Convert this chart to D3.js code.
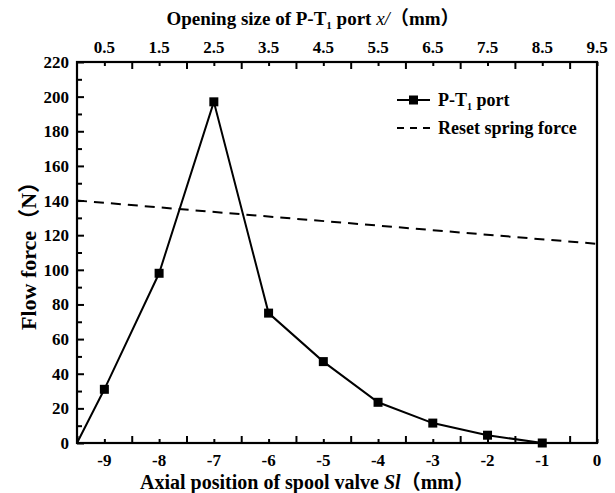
<!DOCTYPE html>
<html>
<head>
<meta charset="utf-8">
<script src="https://cdn.jsdelivr.net/npm/d3@7"></script>
<style>
  body { margin: 0; background: #fff; }
  text { font-family: "Liberation Serif", "Times New Roman", "Noto Sans CJK SC", serif; font-weight: bold; fill: #000; }
</style>
</head>
<body>
<script>
// data
var positions = [-9.5, -9, -8, -7, -6, -5, -4, -3, -2, -1];
var flowForce = [0, 31, 98, 197, 75, 47, 23.5, 11.5, 4.5, 0];
var springX = [-9.5, 0];
var springForce = [140, 115];
var bottomTicks = [-9, -8, -7, -6, -5, -4, -3, -2, -1, 0];
var topTicks = [0.5, 1.5, 2.5, 3.5, 4.5, 5.5, 6.5, 7.5, 8.5, 9.5];
var yTicks = [0, 20, 40, 60, 80, 100, 120, 140, 160, 180, 200, 220];

var scr = { w: 615, h: 493 };
var margins = { left: 77, right: 18, top: 62, bottom: 50 };
var w = scr.w - margins.left - margins.right;
var h = scr.h - margins.top - margins.bottom;

var svg = d3.select('body').append('svg')
  .attr('width', scr.w)
  .attr('height', scr.h);

var g = svg.append('g')
  .attr('transform', 'translate(' + margins.left + ',' + margins.top + ')');

var xScale = d3.scaleLinear().domain([-9.5, 0]).range([0, w]);
var xTopScale = d3.scaleLinear().domain([0, 9.5]).range([0, w]);
var yScale = d3.scaleLinear().domain([0, 220]).range([h, 0]);

// short and long ticks, all pointing inward
var bottomMinor = d3.axisBottom(xScale).tickValues(bottomTicks).tickSize(-4).tickFormat('');
var bottomMajor = d3.axisBottom(xScale).tickValues(d3.range(-9.5, 0, 1)).tickSize(-7).tickFormat('');
var topMinor = d3.axisTop(xTopScale).tickValues(topTicks).tickSize(-4).tickFormat('');
var topMajor = d3.axisTop(xTopScale).tickValues(d3.range(1, 10, 1)).tickSize(-7).tickFormat('');
var leftMajor = d3.axisLeft(yScale).tickValues(yTicks).tickSize(-7).tickFormat('');
var leftMinor = d3.axisLeft(yScale).tickValues(d3.range(10, 220, 20)).tickSize(-5).tickFormat('');

function styleAxis(sel) {
  sel.select('.domain').remove();
  sel.selectAll('line').attr('stroke', '#000').attr('stroke-width', 2);
}

g.append('g').attr('transform', 'translate(0,' + h + ')').call(bottomMinor).call(styleAxis);
g.append('g').attr('transform', 'translate(0,' + h + ')').call(bottomMajor).call(styleAxis);
g.append('g').call(topMinor).call(styleAxis);
g.append('g').call(topMajor).call(styleAxis);
g.append('g').call(leftMajor).call(styleAxis);
g.append('g').call(leftMinor).call(styleAxis);

// frame
g.append('rect')
  .attr('width', w).attr('height', h)
  .attr('fill', 'none').attr('stroke', '#000').attr('stroke-width', 2.2);

// tick labels
g.selectAll('.bl').data(bottomTicks).enter().append('text')
  .attr('x', function(d){ return xScale(d); })
  .attr('y', h + 23)
  .attr('text-anchor', 'middle')
  .style('font-size', '17px')
  .text(function(d){ return d; });

g.selectAll('.tl').data(topTicks).enter().append('text')
  .attr('x', function(d){ return xTopScale(d); })
  .attr('y', -9)
  .attr('text-anchor', 'middle')
  .style('font-size', '17px')
  .text(function(d){ return d; });

g.selectAll('.yl').data(yTicks).enter().append('text')
  .attr('x', -8)
  .attr('y', function(d){ return yScale(d) + 6; })
  .attr('text-anchor', 'end')
  .style('font-size', '17px')
  .text(function(d){ return d; });

// axis titles
var bt = svg.append('text')
  .attr('x', margins.left + w / 2 - 30)
  .attr('y', 489)
  .attr('text-anchor', 'middle')
  .style('font-size', '20px');
bt.append('tspan').text('Axial position of spool valve ');
bt.append('tspan').style('font-style', 'italic').text('Sl');
bt.append('tspan').text('（mm）');

var tt = svg.append('text')
  .attr('x', margins.left + w / 2 - 24)
  .attr('y', 25)
  .attr('text-anchor', 'middle')
  .style('font-size', '19px');
tt.append('tspan').text('Opening size of P-T');
tt.append('tspan').attr('dy', 4).style('font-size', '11px').text('1');
tt.append('tspan').attr('dy', -4).text(' port  ');
tt.append('tspan').style('font-style', 'italic').style('font-weight', 'normal').text('x/');
tt.append('tspan').text('（mm）');

svg.append('text')
  .attr('transform', 'translate(36,' + (margins.top + h / 2 - 2) + ') rotate(-90)')
  .attr('text-anchor', 'middle')
  .style('font-size', '22px')
  .text('Flow force（N）');

// spring force dashed line
var line = d3.line()
  .x(function(d){ return xScale(d[0]); })
  .y(function(d){ return yScale(d[1]); });

g.append('path')
  .datum(d3.zip(springX, springForce))
  .attr('d', line)
  .attr('fill', 'none')
  .attr('stroke', '#000')
  .attr('stroke-width', 2)
  .attr('stroke-dasharray', '10,7');

// flow force line
var flowData = d3.zip(positions, flowForce);
g.append('path')
  .datum(flowData)
  .attr('d', line)
  .attr('fill', 'none')
  .attr('stroke', '#000')
  .attr('stroke-width', 2);

g.selectAll('.marker').data(flowData.slice(1)).enter().append('rect')
  .attr('x', function(d){ return xScale(d[0]) - 4.5; })
  .attr('y', function(d){ return yScale(d[1]) - 4.5; })
  .attr('width', 9).attr('height', 9)
  .attr('fill', '#000');

// legend
var legend = svg.append('g').attr('transform', 'translate(397,100)');
legend.append('line').attr('x1', 0).attr('x2', 33).attr('y1', 0).attr('y2', 0)
  .attr('stroke', '#000').attr('stroke-width', 2);
legend.append('rect').attr('x', 12).attr('y', -4.5).attr('width', 9).attr('height', 9).attr('fill', '#000');
var l1 = legend.append('text').attr('x', 41).attr('y', 6).style('font-size', '18px');
l1.append('tspan').text('P-T');
l1.append('tspan').attr('dy', 4).style('font-size', '10px').text('1');
l1.append('tspan').attr('dy', -4).text(' port');

legend.append('line').attr('x1', 0).attr('x2', 33).attr('y1', 28).attr('y2', 28)
  .attr('stroke', '#000').attr('stroke-width', 2).attr('stroke-dasharray', '7,6');
legend.append('text').attr('x', 41).attr('y', 34).style('font-size', '18px').text('Reset spring force');
</script>
</body>
</html>
